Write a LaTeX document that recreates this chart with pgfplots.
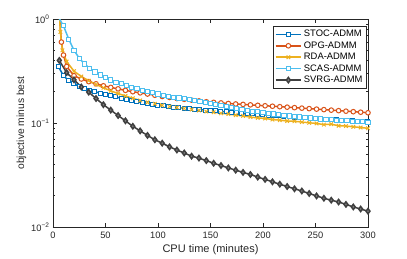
\documentclass[border=0pt]{standalone}
\usepackage{fontspec}
\setmainfont{Liberation Sans}
\usepackage{pgfplots}
\pgfplotsset{compat=1.18}
\definecolor{cstoc}{rgb}{0,0.447,0.741}
\definecolor{copg}{rgb}{0.85,0.325,0.098}
\definecolor{crda}{rgb}{0.929,0.694,0.125}
\definecolor{cscas}{rgb}{0.301,0.745,0.933}
\definecolor{csvrg}{rgb}{0.25,0.25,0.25}
\definecolor{axgray}{rgb}{0.15,0.15,0.15}
\begin{document}
\begin{tikzpicture}
\useasboundingbox (-53pt,-31pt) rectangle (354pt,227pt);
\begin{axis}[
 scale only axis, width=315pt, height=208pt,
 xmin=0, xmax=300, ymin=0.01, ymax=1, ymode=log,
 xtick={0,50,...,300},
 ytick={0.01,0.1,1},
 yticklabels={10\textsuperscript{−2},10\textsuperscript{−1},10\textsuperscript{0}},
 tick align=inside, major tick length=4pt, minor tick length=2.2pt,
 axis line style={color=axgray, line width=0.6pt}, tick style={color=axgray, line width=0.5pt},
 every tick label/.append style={font=\fontsize{9.3}{11}\selectfont, text=axgray},
 xticklabel style={yshift=-1.5pt},
 /pgf/number format/assume math mode=true,
 xlabel={CPU time (minutes)}, ylabel={objective minus best},
 xlabel style={font=\fontsize{11}{12}\selectfont, text=axgray, yshift=1pt},
 ylabel style={font=\fontsize{10.3}{12}\selectfont, text=axgray, yshift=-2pt},
 legend style={at={(rel axis cs:0.995,0.965)}, anchor=north east,
   font=\fontsize{9.4}{10.5}\selectfont, draw=axgray, inner sep=1.8pt, row sep=-0.6pt},
 legend cell align=left,
 legend image code/.code={\draw[mark repeat=2,mark phase=2] plot coordinates {(0cm,0cm)(0.45cm,0cm)(0.9cm,0cm)};},
 every axis plot/.append style={line width=1.5pt, mark options={solid, line width=1pt, fill=white}},
]
% STOC-ADMM
\addplot[color=cstoc, mark=square*, mark size=2pt] table {
x y
5 0.350
10 0.285
15 0.255
20 0.238
25 0.225
30 0.215
35 0.207
40 0.200
45 0.194
50 0.188
55 0.183
60 0.178
65 0.173
70 0.168
75 0.164
80 0.160
85 0.156
90 0.153
95 0.150
100 0.148
105 0.146
110 0.144
115 0.142
120 0.1405
125 0.139
130 0.1375
135 0.136
140 0.1345
145 0.133
150 0.1318
155 0.1305
160 0.1293
165 0.128
170 0.1268
175 0.1256
180 0.1245
185 0.1234
190 0.1223
195 0.1212
200 0.1201
205 0.1190
210 0.1180
215 0.1170
220 0.1160
225 0.1150
230 0.1141
235 0.1132
240 0.1123
245 0.1114
250 0.1105
255 0.1097
260 0.1089
265 0.1081
270 0.1073
275 0.1065
280 0.1058
285 0.1051
290 0.1044
295 0.1037
300 0.1030
};
\addlegendentry{STOC-ADMM}
% OPG-ADMM
\addplot[color=copg, mark=*, mark size=2.3pt] table {
x y
6 1.15
8 0.60
10 0.45
13 0.35
20 0.285
27 0.265
34 0.250
41 0.238
48 0.228
55 0.220
62 0.213
69 0.206
76 0.200
83 0.195
90 0.190
97 0.185
104 0.180
111 0.176
118 0.172
125 0.169
132 0.166
139 0.163
146 0.160
153 0.158
160 0.156
167 0.154
174 0.1525
181 0.151
188 0.1495
195 0.148
202 0.1465
209 0.145
216 0.1435
223 0.142
230 0.1405
237 0.139
244 0.1375
251 0.136
258 0.1345
265 0.133
272 0.1315
279 0.130
286 0.1285
293 0.127
300 0.1255
};
\addlegendentry{OPG-ADMM}
% RDA-ADMM
\addplot[color=crda, mark=x, mark size=2.5pt] table {
x y
6 1.2
7 0.75
9 0.50
13 0.39
20 0.315
27 0.28
34 0.255
41 0.235
48 0.218
55 0.204
62 0.192
69 0.182
76 0.173
83 0.165
90 0.158
97 0.153
104 0.148
111 0.144
118 0.141
125 0.138
132 0.135
139 0.132
146 0.129
153 0.127
160 0.124
167 0.122
174 0.119
181 0.117
188 0.114
195 0.112
202 0.1105
209 0.108
216 0.1065
223 0.1045
230 0.104
237 0.102
244 0.1005
251 0.099
258 0.0965
265 0.0975
272 0.094
279 0.0935
286 0.092
293 0.0905
300 0.089
};
\addlegendentry{RDA-ADMM}
% SCAS-ADMM
\addplot[color=cscas, mark=square*, mark size=2.1pt] table {
x y
4 1.3
5 1.05
10 0.86
15 0.64
20 0.50
25 0.42
30 0.37
35 0.335
40 0.31
45 0.29
50 0.273
55 0.259
60 0.247
65 0.238
70 0.229
75 0.221
80 0.214
85 0.207
90 0.200
95 0.195
100 0.190
105 0.185
110 0.181
115 0.177
120 0.174
125 0.171
130 0.168
135 0.164
140 0.160
145 0.157
150 0.154
155 0.151
160 0.148
165 0.145
170 0.142
175 0.139
180 0.136
185 0.133
190 0.130
195 0.128
200 0.126
205 0.124
210 0.122
215 0.120
220 0.1185
225 0.117
230 0.1155
235 0.114
240 0.1128
245 0.1116
250 0.1105
255 0.1095
260 0.1085
265 0.1075
270 0.1066
275 0.1057
280 0.1048
285 0.104
290 0.1032
295 0.1025
300 0.1018
};
\addlegendentry{SCAS-ADMM}
% SVRG-ADMM
\addplot[color=csvrg, mark=diamond*, mark size=2.6pt, mark options={fill=gray}] table {
x y
6 0.400
13 0.305
20 0.26
27 0.222
34 0.198
41 0.172
48 0.150
55 0.133
62 0.118
69 0.105
76 0.093
83 0.084
90 0.076
97 0.069
104 0.064
111 0.059
118 0.055
125 0.0515
132 0.048
139 0.046
146 0.0435
153 0.041
160 0.039
167 0.037
174 0.0352
181 0.0335
188 0.032
195 0.0302
202 0.0287
209 0.0272
216 0.0258
223 0.0245
230 0.0233
237 0.0222
244 0.0210
251 0.0199
258 0.0189
265 0.0181
272 0.0174
279 0.0165
286 0.0156
293 0.0149
300 0.0142
};
\addlegendentry{SVRG-ADMM}
\end{axis}
\end{tikzpicture}
\end{document}
